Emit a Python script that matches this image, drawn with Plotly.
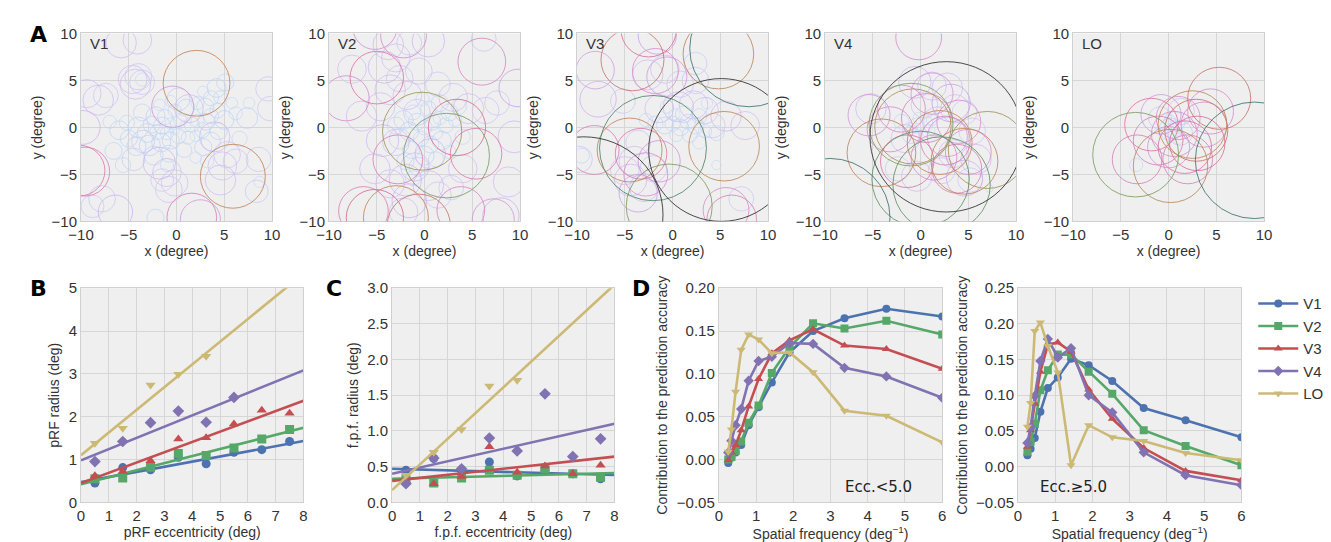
import plotly.graph_objects as go

# ---------------- DATA ----------------
areas = ["V1", "V2", "V3", "V4", "LO"]

# Panel A: pRF circles (center x, center y, radius) per area
v1_cx = [2.1, 5.9, -9.6, -10.2, -0.4, 1.6, 2.5, -5.8, -4.1, -4.6, -4.0, -3.6, -4.3, -9.4, -7.4, -8.2, -9.8, -1.8, -1.0, -0.2, -0.8, -1.5, 4.8, 5.3, 4.0, 6.2, 4.6, 8.6, 9.6, 9.8, -7.8, -6.4, -8.8, -3.5, -4.5, 1.3, 0.2, 7.4, 8.4,
         -1.5, -2.0, -1.0, -0.6, -2.6, -3.1, -1.2, -2.2, 0.4, 0.9, 1.6, 2.2, 2.7, 3.1, 3.6, 2.0, 1.2, 0.2, -0.6, -1.6, -2.8, -4.2, -5.0, -4.0, -5.2, -3.6, -6.0, -2.4, -0.8, 0.8, 2.8, 3.6, 4.4, 5.0, 4.3, 3.0, 2.2, 1.0, -0.2, 4.2, 3.6, 5.1, 4.6, 2.8, 5.8, 6.2, 3.2, 2.0, -1.0, -5.6, -6.6, -2.2, 8.7, -3.6, -0.6, 6.6, 7.6, -7.0, -0.2, -1.8]
v1_cy = [4.7, -5.2, -4.7, -4.6, 2.2, -9.6, -9.8, 9.0, 9.3, 5.1, 5.4, 4.8, 4.6, 3.6, 3.4, 2.9, 0.0, -3.8, -4.8, -5.9, -6.6, -5.6, -4.1, -2.9, -1.0, -3.6, -5.6, -3.4, 4.1, 2.0, -7.6, -9.0, -8.4, -1.5, -3.4, 2.0, 3.0, 1.0, -6.8,
         0.2, -0.5, -0.6, 0.4, 0.3, -0.6, 1.1, 1.2, 0.8, 0.1, 0.3, 0.7, -0.3, 0.6, 1.2, -0.9, -1.1, -0.9, -1.4, -1.6, -1.9, -2.0, -1.2, 0.0, 0.5, 1.6, -0.3, -3.0, -2.8, -2.4, -2.1, -1.5, -0.4, 0.8, 1.8, 2.2, 2.6, 2.1, 1.8, 4.2, 3.1, 4.8, 3.2, 3.8, 2.6, 1.5, -3.6, -3.2, -4.0, -4.0, -2.5, -9.6, -5.8, 5.1, 2.8, -1.2, 2.6, 0.6, -0.3, 2.4]
v1_r = [3.5, 3.4, 2.6, 2.7, 2.2, 2.6, 2.1, 1.6, 1.5, 1.5, 1.4, 1.3, 1.6, 1.5, 1.3, 1.6, 1.8, 1.7, 1.5, 1.4, 1.4, 1.2, 1.5, 1.4, 1.6, 1.3, 1.6, 1.3, 1.3, 1.3, 1.4, 1.8, 1.2, 1.2, 1.2, 1.5, 1.2, 1.1, 1.2,
        0.9, 0.8, 0.7, 0.6, 0.9, 1.0, 0.8, 1.0, 0.7, 0.6, 0.8, 0.7, 0.8, 0.9, 0.8, 0.6, 0.7, 0.8, 0.9, 1.0, 1.1, 1.0, 0.9, 1.1, 0.8, 0.9, 1.0, 1.0, 0.9, 0.8, 0.9, 1.0, 0.9, 1.0, 0.8, 0.9, 0.7, 0.9, 0.7, 1.0, 0.8, 0.9, 0.7, 0.6, 0.6, 0.7, 0.7, 0.6, 0.7, 0.8, 0.9, 0.9, 0.6, 0.7, 0.6, 0.8, 0.6, 0.7, 0.5, 0.6]

v2_cx = [-0.25, 2.3, -3.0, -0.6, 6.0, -5.0, -8.2, -2.8, 5.4, 3.4, -6.4, -5.2, 7.2, 8.0, 3.8, -5.2, -2.2, 9.8,
         -3.8, -3.0, -4.2, -2.6, -3.6, -1.8, -0.6, 0.4, -1.6, 6.2, -6.6, -4.6, -4.4, -3.0, -5.2, -3.6, -2.0, -1.0, -1.6, 0.4, 1.4, 2.8, 4.0, 3.0, 4.6, 6.4, 7.6, 9.4, 8.8, -7.6, 1.4, -0.8, 0.6, -2.2,
         0.0, 0.8, 1.6, 2.2, 1.2, -0.8, -1.6, -0.4, 0.6, 1.8, 2.6, 3.2, -1.2, -2.2, -2.6, -1.4, 0.0, 1.2, -0.6, -2.0, 2.6, 0.4, 1.6, -0.2, 3.6, -3.0, 4.0, -1.2]
v2_cy = [-0.4, -3.0, -9.6, -10.4, 7.0, 5.3, 3.1, -3.4, -2.8, 0.0, -8.9, -9.6, -9.8, -9.4, -8.8, 10.6, 9.8, 4.2,
         8.8, 7.4, 6.4, 5.2, 4.0, 3.4, 6.0, 9.2, 9.0, 9.4, 1.2, 2.2, -1.4, -1.6, -4.4, -6.0, -5.6, -4.2, -7.8, -6.2, -7.2, -6.4, -4.4, 3.2, 2.0, 1.8, 2.6, -1.0, -5.8, 6.2, 4.6, 1.6, -2.8, -9.0,
         0.0, 0.6, 1.0, 0.2, -0.6, 0.6, -0.4, -1.2, -1.8, -1.4, 1.6, 0.8, 1.6, 0.8, -1.2, -2.4, -3.0, -3.4, -4.2, -3.6, -2.6, 2.0, 2.6, 3.0, 2.2, 0.2, -1.0, -5.4]
v2_r = [4.15, 4.5, 3.4, 3.3, 2.5, 2.8, 2.4, 2.6, 2.7, 3.0, 2.6, 3.0, 2.2, 1.9, 2.5, 2.3, 2.4, 2.0,
        1.6, 1.5, 1.7, 1.4, 1.6, 1.5, 1.4, 1.7, 1.3, 1.3, 1.6, 1.5, 1.7, 1.4, 1.6, 1.5, 1.7, 1.5, 1.8, 1.6, 1.4, 1.3, 1.5, 1.5, 1.6, 1.4, 1.3, 1.7, 1.6, 1.5, 1.3, 1.4, 1.6, 1.5,
        0.8, 0.9, 0.7, 0.8, 0.7, 0.9, 1.0, 0.8, 0.9, 1.0, 0.9, 0.7, 0.8, 1.0, 1.1, 0.9, 1.0, 0.8, 1.0, 0.9, 0.7, 0.8, 0.9, 0.7, 0.8, 0.9, 0.8, 0.8]

v3_cx = [5.1, -9.3, 8.0, -2.05, -0.35, 5.4, -4.2, -4.5, 4.8,
         -8.1, -8.2, -3.3, -2.5, -1.6, 5.6, 6.2, -7.8, -1.8, -0.6, -2.8, -1.4, -3.6,
         -2.6, -0.8, 0.8, 2.4, -1.4, 0.6, 2.2, 3.4, 4.2, 7.6, 5.6, -5.2, -9.8, -4.0, -5.0, -3.0, -2.0, -3.6, -4.4, 7.2, 2.4,
         0.0, 0.8, 1.6, 2.4, 1.2, 2.8, 3.4, 0.4, -0.8, -1.8, 1.8, 2.8, 4.6, 0.2, -0.6, 3.6, -2.8, 4.6, -9.5]
v3_cy = [-2.4, -9.3, 8.4, -2.2, -8.4, -2.0, 7.2, -2.4, 7.8,
         6.1, -2.4, -2.8, 10.4, 9.8, -8.8, -9.8, 3.0, 6.0, 5.4, -5.0, -3.6, -7.0,
         5.6, 6.2, 4.6, 5.0, 2.0, 2.2, 2.4, 1.8, 0.2, 0.2, 1.2, 2.8, -3.4, -3.6, -4.6, -6.4, -4.4, -1.6, -5.6, -7.6, 6.8,
         0.4, 0.0, 0.6, 0.2, 1.4, 1.2, -0.4, -0.8, 0.2, 0.4, -0.8, -1.6, -0.6, 1.4, 2.2, 2.6, 0.8, -4.0, -3.0]
v3_r = [7.6, 8.3, 6.2, 5.6, 4.5, 3.7, 3.3, 3.4, 3.7,
        2.0, 2.6, 2.7, 2.9, 2.0, 2.4, 2.6, 1.9, 2.4, 2.1, 2.3, 2.2, 2.0,
        1.6, 1.5, 1.4, 1.4, 1.5, 1.6, 1.5, 1.4, 1.3, 1.5, 1.6, 1.3, 1.4, 1.6, 1.5, 1.5, 1.4, 1.3, 1.7, 1.3, 1.2,
        0.8, 0.9, 0.8, 0.9, 0.9, 0.8, 0.7, 0.7, 0.9, 0.8, 0.8, 0.7, 0.8, 0.6, 0.7, 0.6, 0.7, 0.5, 0.8]

v4_cx = [2.7, -9.5, -1.0, -0.8, 2.2, 0.0, 7.0, -4.1, 2.0, 4.6,
         -0.2, -5.4, -3.2, 0.6, 2.6, 2.8, 4.0, 3.2, 1.4, 3.8, 5.0, -1.4, 1.2, -2.0, 4.6,
         -5.2, -0.6, 1.2, 2.8, 3.6, 4.6, 5.4, 5.8, 5.2, 2.2, -0.4, -2.4, -1.6, 0.4, 3.4, 1.8,
         -0.4, 0.4, -1.2, 0.8, -0.2, -2.0, 1.2, -1.0, 7.2]
v4_cy = [-1.0, -9.6, 0.3, 0.1, -6.1, -5.5, -2.4, -2.7, -1.6, -3.6,
         9.6, 1.3, -0.2, 1.0, -1.4, -1.0, 0.6, 2.6, -3.2, -4.4, -2.6, -3.6, 3.6, 2.0, -5.4,
         2.0, 4.8, 4.4, 4.2, 2.0, 1.6, -0.4, -3.4, -5.6, -4.6, -5.2, -4.4, -1.2, 2.4, -2.8, 0.6,
         0.2, 0.4, -0.2, -0.4, 1.0, 0.6, 0.8, -0.8, -6.5]
v4_r = [8.0, 6.3, 4.4, 4.0, 5.1, 5.1, 4.1, 3.6, 3.4, 3.5,
        2.4, 2.2, 2.4, 2.6, 2.6, 2.1, 2.3, 2.0, 2.4, 2.6, 2.4, 2.8, 2.2, 2.5, 1.9,
        1.6, 1.7, 1.5, 1.6, 1.5, 1.3, 1.4, 1.6, 1.3, 1.4, 1.6, 1.3, 1.5, 1.4, 1.5, 1.6,
        0.8, 0.9, 0.7, 0.7, 0.6, 0.8, 0.6, 0.9, 0.4]

lo_cx = [9.0, -3.45, 0.2, 5.3, 2.5, 2.9,
         -3.3, -1.8, -0.8, 1.7, 2.0, 4.4, 3.7, 0.6, 0.0, 3.0, -1.1, 1.0,
         -0.9, 1.3, 0.6, 0.2, 1.2,
         -3.4, 0.4, 0.8, 0.2, 1.0]
lo_cy = [-3.5, -2.9, -4.1, 3.1, 0.3, -0.3,
         -3.4, 0.3, 1.4, -2.1, -3.4, 1.7, 0.3, -0.7, -2.1, -1.7, -1.4, 1.0,
         1.0, 1.7, 0.6, -0.2, -0.6,
         -4.0, -0.4, 0.2, 0.8, -1.2]
lo_r = [6.2, 4.5, 3.9, 3.3, 3.6, 3.3,
        2.6, 2.8, 2.1, 2.8, 2.6, 2.4, 2.4, 2.4, 2.2, 2.9, 2.6, 2.3,
        1.2, 1.4, 1.1, 1.2, 1.3,
        0.7, 0.7, 0.6, 0.5, 0.6]

# Panel B: pRF radius vs eccentricity
ecc_bins = [0.5, 1.5, 2.5, 3.5, 4.5, 5.5, 6.5, 7.5]
b_v1 = [0.45, 0.81, 0.76, 1.05, 0.90, 1.17, 1.23, 1.42]
b_v2 = [0.55, 0.57, 0.82, 1.14, 1.09, 1.27, 1.48, 1.70]
b_v3 = [0.62, 0.72, 0.97, 1.48, 1.51, 1.83, 2.15, 2.08]
b_v4 = [0.95, 1.42, 1.86, 2.13, 1.87, 2.45, None, None]
b_lo = [1.38, 1.73, 2.74, 2.99, 3.41, None, None, None]
b_fit_intercept = [0.47, 0.42, 0.45, 0.98, 1.10]
b_fit_slope = [0.120, 0.165, 0.240, 0.2625, 0.530]

# Panel C: f.p.f. radius vs eccentricity
c_v1 = [0.45, 0.615, 0.45, 0.565, 0.37, 0.45, 0.40, 0.33]
c_v2 = [0.33, 0.27, 0.34, 0.45, 0.38, 0.47, 0.40, 0.35]
c_v3 = [0.30, 0.26, 0.36, 0.78, 0.42, 0.51, 0.40, 0.52]
c_v4 = [0.26, 0.62, 0.47, 0.90, 0.72, 1.52, 0.64, 0.89]
c_lo = [0.38, 0.70, 1.02, 1.63, 1.71, None, None, None]
c_fit_intercept = [0.47, 0.33, 0.30, 0.40, 0.17]
c_fit_slope = [-0.011, 0.010, 0.0425, 0.0875, 0.360]

# Panel D: contribution vs spatial frequency
sf = [0.253, 0.338, 0.450, 0.601, 0.801, 1.068, 1.424, 1.898, 2.531, 3.375, 4.5, 6.0]
d_lt5_v1 = [-0.004, 0.002, 0.008, 0.017, 0.040, 0.061, 0.090, 0.125, 0.150, 0.165, 0.176, 0.167]
d_lt5_v2 = [0.000, 0.003, 0.010, 0.021, 0.043, 0.063, 0.101, 0.131, 0.159, 0.153, 0.162, 0.146]
d_lt5_v3 = [-0.001, 0.008, 0.017, 0.034, 0.062, 0.094, 0.124, 0.139, 0.152, 0.133, 0.129, 0.106]
d_lt5_v4 = [0.008, 0.022, 0.040, 0.059, 0.092, 0.115, 0.120, 0.136, 0.135, 0.107, 0.097, 0.072]
d_lt5_lo = [0.009, 0.035, 0.079, 0.128, 0.146, 0.140, 0.124, 0.125, 0.102, 0.057, 0.051, 0.020]
d_ge5_v1 = [0.016, 0.025, 0.040, 0.077, 0.110, 0.125, 0.151, 0.142, 0.120, 0.082, 0.065, 0.041]
d_ge5_v2 = [0.021, 0.035, 0.060, 0.107, 0.135, 0.157, 0.157, 0.133, 0.102, 0.051, 0.029, 0.002]
d_ge5_v3 = [0.028, 0.051, 0.088, 0.133, 0.171, 0.174, 0.161, 0.108, 0.067, 0.026, -0.006, -0.019]
d_ge5_v4 = [0.033, 0.055, 0.099, 0.148, 0.179, 0.153, 0.166, 0.100, 0.076, 0.020, -0.012, -0.026]
d_ge5_lo = [0.056, 0.089, 0.190, 0.202, 0.169, 0.132, 0.002, 0.058, 0.041, 0.036, 0.019, 0.009]

# ---------------- STYLE ----------------
W, H = 1331, 542
colors = ["#4c72b0", "#55a868", "#c44e52", "#8172b2", "#ccb974"]
symbols = ["circle", "square", "triangle-up", "diamond", "triangle-down"]
FONT = "Liberation Sans, Arial, sans-serif"
BG = "#efefef"
GRID = "#d6d6d6"

radius_stops = [(0.4, (200, 222, 246)), (1.0, (188, 210, 246)), (1.4, (205, 192, 245)),
                (1.9, (204, 168, 236)), (2.4, (216, 142, 206)), (2.9, (217, 112, 154)),
                (3.2, (206, 104, 122)), (3.4, (196, 132, 94)), (4.0, (176, 142, 90)),
                (4.4, (128, 160, 96)), (5.2, (90, 144, 102)), (6.0, (62, 122, 112)),
                (6.8, (58, 95, 110)), (7.5, (45, 45, 45))]


def radius_color(r):
    if r <= radius_stops[0][0]:
        c = radius_stops[0][1]
    elif r >= radius_stops[-1][0]:
        c = radius_stops[-1][1]
    else:
        for (r0, c0), (r1, c1) in zip(radius_stops[:-1], radius_stops[1:]):
            if r0 <= r <= r1:
                t = (r - r0) / (r1 - r0)
                c = tuple(int(round(a + (b - a) * t)) for a, b in zip(c0, c1))
                break
    alpha = 0.7 if r < 2.0 else 0.85
    return "rgba(%d,%d,%d,%.2f)" % (c[0], c[1], c[2], alpha)


def px_dom_x(a, b):
    return [a / W, b / W]


def px_dom_y(top, bottom):
    return [1 - bottom / H, 1 - top / H]


fig = go.Figure()

axis_common = dict(showgrid=True, gridcolor=GRID, gridwidth=1, zeroline=False,
                   showline=True, linecolor="#d0d0d0", linewidth=1, mirror=True,
                   ticks="", tickfont=dict(family=FONT, size=15, color="#333333"),
                   title_font=dict(family=FONT, size=14, color="#333333"))

layout = dict(width=W, height=H, margin=dict(l=0, r=0, t=0, b=0),
              paper_bgcolor="white", plot_bgcolor=BG, showlegend=True,
              font=dict(family=FONT, color="#333333"))

# ---------- Panel A ----------
a_left = [61, 313, 565, 817, 1069]
circle_sets = [(v1_cx, v1_cy, v1_r), (v2_cx, v2_cy, v2_r), (v3_cx, v3_cy, v3_r),
               (v4_cx, v4_cy, v4_r), (lo_cx, lo_cy, lo_r)]
shapes = []
annotations = []
for i, (name, (cx, cy, rr)) in enumerate(zip(areas, circle_sets)):
    k = i + 1
    xa = "xaxis" if k == 1 else "xaxis%d" % k
    ya = "yaxis" if k == 1 else "yaxis%d" % k
    xr = "x" if k == 1 else "x%d" % k
    yr = "y" if k == 1 else "y%d" % k
    layout[xa] = dict(axis_common, domain=px_dom_x(a_left[i], a_left[i] + 194), anchor=yr,
                      range=[-10, 10], tickvals=[-10, -5, 0, 5, 10],
                      title=dict(text="x (degree)", standoff=3))
    layout[ya] = dict(axis_common, domain=px_dom_y(17, 211), anchor=xr,
                      range=[-10, 10], tickvals=[-10, -5, 0, 5, 10],
                      title=dict(text="y (degree)", standoff=5))
    # empty trace so the subplot axes are drawn
    fig.add_trace(go.Scatter(x=[0], y=[0], mode="markers", marker=dict(size=1, opacity=0),
                             xaxis=xr, yaxis=yr, showlegend=False, hoverinfo="skip"))
    order = sorted(range(len(rr)), key=lambda j: rr[j])
    for j in order:
        shapes.append(dict(type="circle", xref=xr, yref=yr, layer="above",
                           x0=cx[j] - rr[j], x1=cx[j] + rr[j],
                           y0=cy[j] - rr[j], y1=cy[j] + rr[j],
                           line=dict(color=radius_color(rr[j]), width=1)))
    annotations.append(dict(x=-9.3, y=8.9, xref=xr, yref=yr, text=name, showarrow=False,
                            xanchor="left", yanchor="middle",
                            font=dict(family=FONT, size=15, color="#333333")))

# ---------- Panel B and C ----------
b_series = [b_v1, b_v2, b_v3, b_v4, b_lo]
c_series = [c_v1, c_v2, c_v3, c_v4, c_lo]
bc_specs = [
    (6, 61, b_series, b_fit_intercept, b_fit_slope, [0, 5], [0, 1, 2, 3, 4, 5], None,
     "pRF eccentricity (deg)", "pRF radius (deg)"),
    (7, 377, c_series, c_fit_intercept, c_fit_slope, [0, 3], [0, 0.5, 1, 1.5, 2, 2.5, 3], ".1f",
     "f.p.f. eccentricity (deg)", "f.p.f. radius (deg)"),
]
fit_x = [0, 8]
for k, left, series, icpt, slope, yrange, ytv, yfmt, xt, yt in bc_specs:
    xr, yr = "x%d" % k, "y%d" % k
    layout["xaxis%d" % k] = dict(axis_common, domain=px_dom_x(left, left + 226), anchor=yr,
                                 range=[0, 8], dtick=1, title=dict(text=xt, standoff=3))
    ydict = dict(axis_common, domain=px_dom_y(280, 501), anchor=xr, range=yrange,
                 tickvals=ytv, title=dict(text=yt, standoff=5))
    if yfmt:
        ydict["tickformat"] = yfmt
    layout["yaxis%d" % k] = ydict
    for s in range(5):
        fig.add_trace(go.Scatter(x=ecc_bins, y=series[s], mode="markers", xaxis=xr, yaxis=yr,
                                 marker=dict(symbol=symbols[s], size=9, color=colors[s]),
                                 showlegend=False, name=areas[s]))
        fig.add_trace(go.Scatter(x=fit_x, y=[icpt[s] + slope[s] * xv for xv in fit_x],
                                 mode="lines", xaxis=xr, yaxis=yr,
                                 line=dict(color=colors[s], width=2.6),
                                 showlegend=False, name=areas[s]))

# ---------- Panel D ----------
d_specs = [
    (8, 709, [d_lt5_v1, d_lt5_v2, d_lt5_v3, d_lt5_v4, d_lt5_lo], [-0.05, 0.20],
     [-0.05, 0, 0.05, 0.10, 0.15, 0.20], "Ecc.<5.0", 4.3, -0.032, True),
    (9, 1013, [d_ge5_v1, d_ge5_v2, d_ge5_v3, d_ge5_v4, d_ge5_lo], [-0.05, 0.25],
     [-0.05, 0, 0.05, 0.10, 0.15, 0.20, 0.25], "Ecc.≥5.0", 1.5, -0.029, False),
]
for k, left, series, yrange, ytv, label, lx, ly, legend in d_specs:
    xr, yr = "x%d" % k, "y%d" % k
    layout["xaxis%d" % k] = dict(axis_common, domain=px_dom_x(left, left + 227), anchor=yr,
                                 range=[0, 6], dtick=1,
                                 title=dict(text="Spatial frequency (deg<sup>−1</sup>)", standoff=3))
    layout["yaxis%d" % k] = dict(axis_common, domain=px_dom_y(280, 501), anchor=xr,
                                 range=yrange, tickvals=ytv, tickformat=".2f",
                                 title=dict(text="Contribution to the prediction accuracy", standoff=5))
    for s in range(5):
        fig.add_trace(go.Scatter(x=sf, y=series[s], mode="lines+markers", xaxis=xr, yaxis=yr,
                                 marker=dict(symbol=symbols[s], size=8, color=colors[s]),
                                 line=dict(color=colors[s], width=2.6),
                                 name=areas[s], showlegend=legend))
    annotations.append(dict(x=lx, y=ly, xref=xr, yref=yr, text=label, showarrow=False,
                            xanchor="center", yanchor="middle",
                            font=dict(family="DejaVu Sans, sans-serif", size=15, color="#222222")))

# panel letters
for letter, px, py in [("A", 18, 18), ("B", 18, 280), ("C", 318, 280), ("D", 630, 280)]:
    annotations.append(dict(x=px / W, y=1 - py / H, xref="paper", yref="paper", text="<b>%s</b>" % letter,
                            showarrow=False, xanchor="center", yanchor="middle",
                            font=dict(family="DejaVu Sans, sans-serif", size=22, color="black")))

layout["shapes"] = shapes
layout["annotations"] = annotations
layout["legend"] = dict(x=1252 / W, y=1 - 279 / H, xanchor="left", yanchor="top",
                        bgcolor="rgba(0,0,0,0)", font=dict(family=FONT, size=15, color="#333333"),
                        itemwidth=40, tracegroupgap=0)
fig.update_layout(**layout)
fig.write_html("out.html")
